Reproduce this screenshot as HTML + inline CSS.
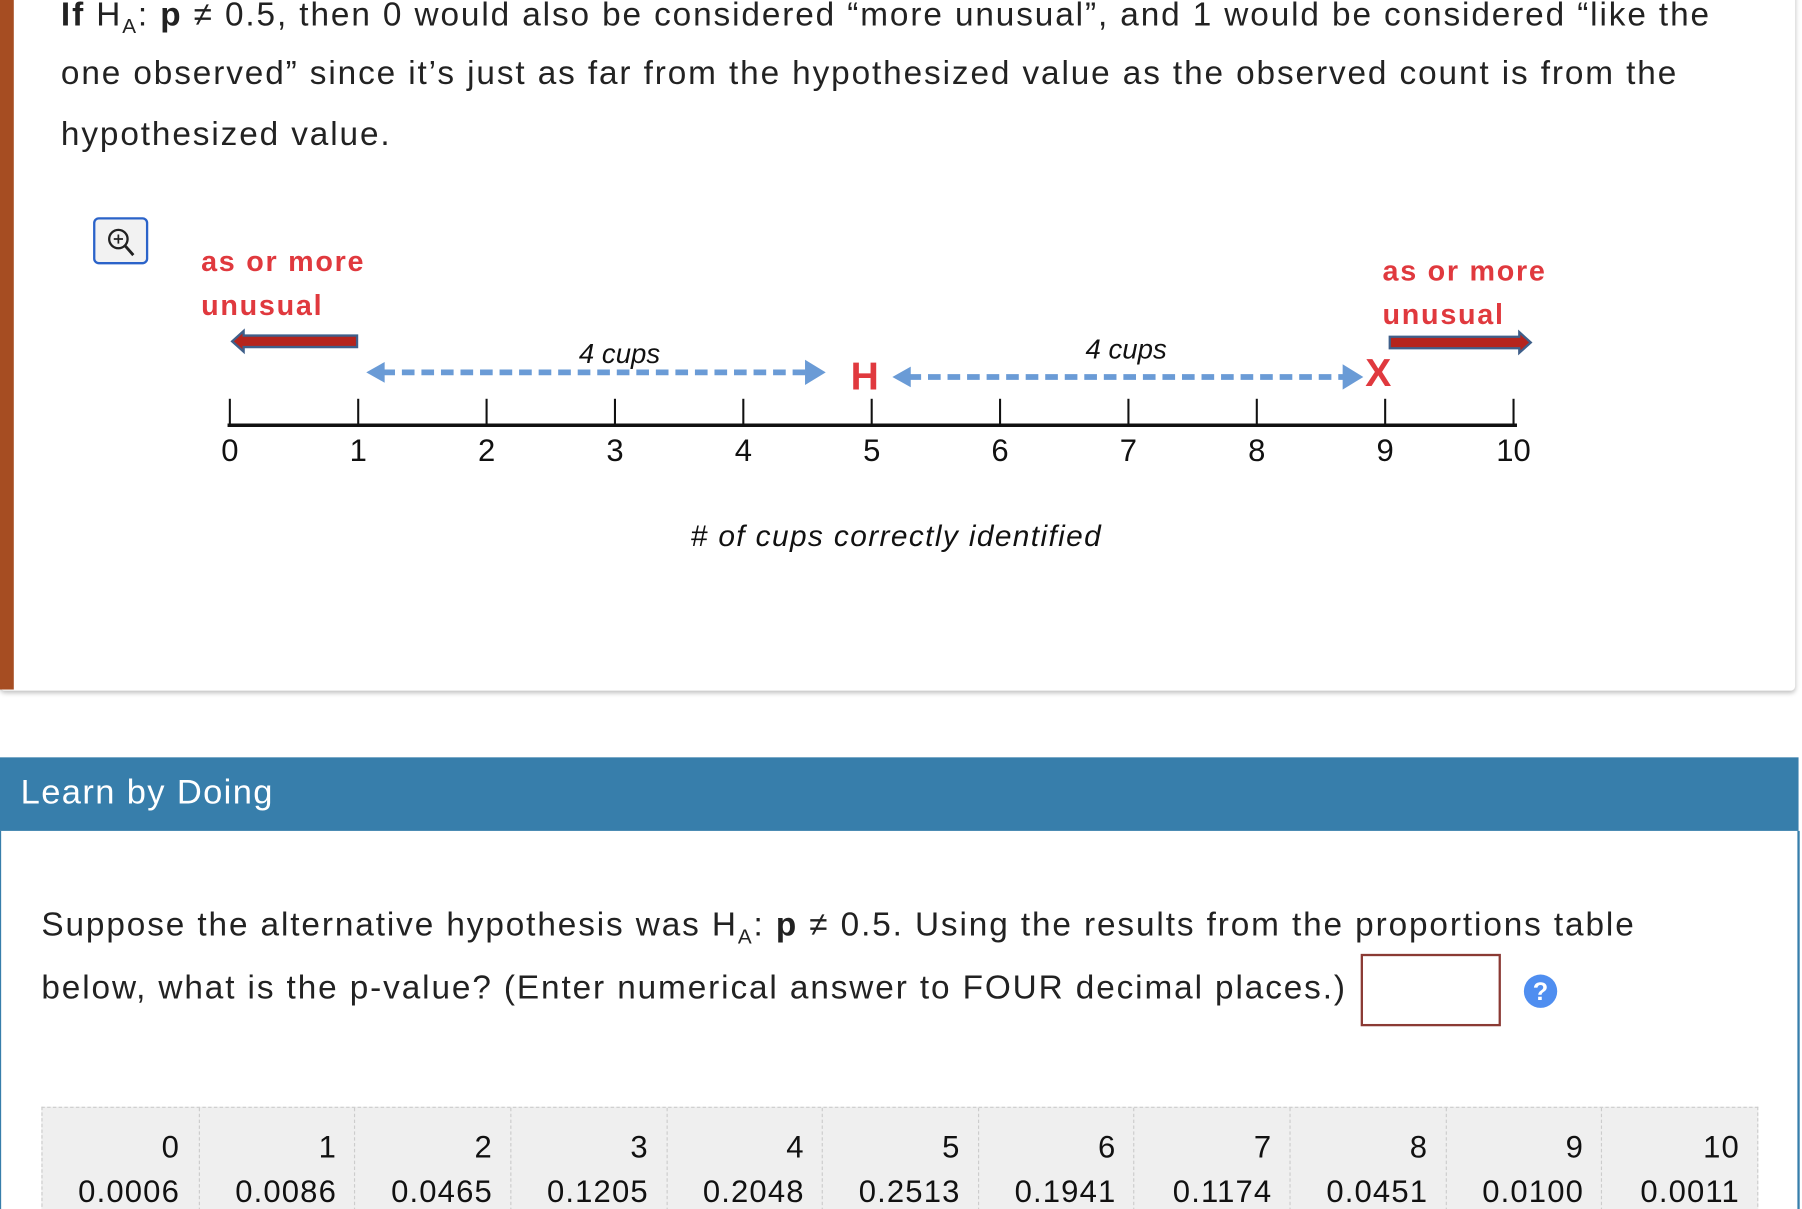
<!DOCTYPE html>
<html><head><meta charset="utf-8">
<style>
html,body{margin:0;padding:0;background:#fff;width:1802px;height:1209px;overflow:hidden}
#wrap{position:absolute;left:0;top:0;width:1568px;height:1052px;overflow:hidden;transform:scale(1.14923);transform-origin:0 0;font-family:"Liberation Sans",sans-serif;color:#222}
.abs{position:absolute}
.p{font-size:29px;white-space:nowrap;letter-spacing:1.65px}
</style></head><body>
<div id="wrap">
  <div class="abs" style="left:0;top:-10px;width:1562px;height:611px;background:#fff;box-shadow:0 2px 4px rgba(0,0,0,0.25);border-radius:0 0 4px 4px"></div>
  <div class="abs" style="left:0;top:0;width:12px;height:600px;background:#a64d22"></div>
  <div class="abs p" style="left:53px;top:-3px"><b>If</b> H<sub style="font-size:18px">A</sub>: <b>p</b> ≠ 0.5, then 0 would also be considered “more unusual”, and 1 would be considered “like the</div>
  <div class="abs p" style="left:53px;top:48px">one observed” since it’s just as far from the hypothesized value as the observed count is from the</div>
  <div class="abs p" style="left:53px;top:101px">hypothesized value.</div>
  <div class="abs" style="left:81px;top:189px;width:44px;height:37px;border:2px solid #2b63c9;border-radius:5px;background:#f2f2f2">
    <svg width="44" height="37"><circle cx="20" cy="17" r="8" fill="none" stroke="#222" stroke-width="2"/><line x1="26" y1="23" x2="33" y2="31" stroke="#222" stroke-width="2.5"/><line x1="16" y1="17" x2="24" y2="17" stroke="#222" stroke-width="1.5"/><line x1="20" y1="13" x2="20" y2="21" stroke="#222" stroke-width="1.5"/></svg>
  </div>
  <svg id="chart" class="abs" style="left:0;top:0" width="1568" height="600"></svg>

  <div class="abs" style="left:0;top:659px;width:1565px;height:64px;background:#377eab"></div>
  <div class="abs" style="left:18px;top:673px;font-size:30px;color:#fff;letter-spacing:1.2px">Learn by Doing</div>
  <div class="abs" style="left:0;top:723px;width:1563px;height:340px;border-left:1px solid #377eab;border-right:2px solid #377eab"></div>
  <div class="abs p" style="left:36px;top:789px">Suppose the alternative hypothesis was H<sub style="font-size:18px">A</sub>: <b>p</b> ≠ 0.5. Using the results from the proportions table</div>
  <div class="abs p" style="left:36px;top:844px">below, what is the p-value? (Enter numerical answer to FOUR decimal places.)</div>
  <div class="abs" style="left:1184px;top:830px;width:118px;height:59px;border:2px solid #8b3a34;background:#fff"></div>
  <div class="abs" style="left:1326px;top:848px;width:29px;height:29px;border-radius:50%;background:#4f8ef0;color:#fff;font-weight:bold;font-size:22px;text-align:center;line-height:29px">?</div>
  <div id="tbl" class="abs" style="left:36px;top:963px;width:1492px;height:100px;background:#efefef;border:1px dashed #ccc"></div>
</div>
<script>
const ticks=[0,1,2,3,4,5,6,7,8,9,10];
const counts=["0","1","2","3","4","5","6","7","8","9","10"];
const props=["0.0006","0.0086","0.0465","0.1205","0.2048","0.2513","0.1941","0.1174","0.0451","0.0100","0.0011"];
const hyp=[5];
const obs=[9];
const ns="http://www.w3.org/2000/svg";
const svg=document.getElementById('chart');
const X=v=>200+v*111.7;
function mk(t,a,name){const e=document.createElementNS(ns,t);for(const k in a)e.setAttribute(k,a[k]);


svg.appendChild(e);return e;}
mk('line',{x1:X(0)-2,y1:370,x2:X(10)+3,y2:370,stroke:'#111','stroke-width':3},'axis-line');
ticks.forEach(t=>{
 mk('line',{x1:X(t),y1:347,x2:X(t),y2:370,stroke:'#111','stroke-width':1.8},'tick-'+t);
 const tx=mk('text',{x:X(t),y:401,'text-anchor':'middle','font-size':27,fill:'#111','font-family':'Liberation Sans'},'tick-label-'+t);tx.textContent=t;
});
const red='#e0393e';
const h=mk('text',{x:X(hyp[0])-6,y:339,'text-anchor':'middle','font-size':34,'font-weight':'bold',fill:red,'font-family':'Liberation Sans'},'hypothesized-marker');h.textContent='H';
const xo=mk('text',{x:X(obs[0])-6,y:336,'text-anchor':'middle','font-size':34,'font-weight':'bold',fill:red,'font-family':'Liberation Sans'},'observed-marker');xo.textContent='X';
function dash(x1,x2,y,name){
 mk('line',{x1:x1+14,y1:y,x2:x2-16,y2:y,stroke:'#6a9bd6','stroke-width':5,'stroke-dasharray':'11 6'},name+'-line');
 mk('polygon',{points:`${x1},${y} ${x1+16},${y-9} ${x1+16},${y+9}`,fill:'#6a9bd6'},name+'-left-head');
 mk('polygon',{points:`${x2},${y} ${x2-18},${y-11} ${x2-18},${y+11}`,fill:'#6a9bd6'},name+'-right-head');
}
dash(X(1)+7,X(hyp[0])-40,324,'left-distance-arrow');
dash(X(hyp[0])+18,X(obs[0])-19,328,'right-distance-arrow');
const c1=mk('text',{x:X(3)+4,y:316,'text-anchor':'middle','font-size':24,'font-style':'italic',fill:'#111','font-family':'Liberation Sans'},'left-distance-label');c1.textContent='4 cups';
const c2=mk('text',{x:X(7)-2,y:312,'text-anchor':'middle','font-size':24,'font-style':'italic',fill:'#111','font-family':'Liberation Sans'},'right-distance-label');c2.textContent='4 cups';
function redArrow(x1,x2,y,dir,name){
 const p=dir<0?`${x2},${y-5} ${x1+10},${y-5} ${x1+10},${y-9} ${x1},${y} ${x1+10},${y+9} ${x1+10},${y+5} ${x2},${y+5}`
              :`${x1},${y-5} ${x2-10},${y-5} ${x2-10},${y-9} ${x2},${y} ${x2-10},${y+9} ${x2-10},${y+5} ${x1},${y+5}`;
 mk('polygon',{points:p,fill:'#b5241d',stroke:'#3f5f8a','stroke-width':2},name);
}
redArrow(X(0)+2,X(1)-1,297,-1,'left-unusual-arrow');
redArrow(X(9)+4,X(10)+15,298,1,'right-unusual-arrow');
[[175,236,'as or more','left-unusual-label-1'],[175,274,'unusual','left-unusual-label-2'],[1203,244,'as or more','right-unusual-label-1'],[1203,282,'unusual','right-unusual-label-2']].forEach(a=>{
 const t=mk('text',{x:a[0],y:a[1],'font-size':25,'font-weight':'bold',fill:red,'font-family':'Liberation Sans','letter-spacing':1.5},a[3]);t.textContent=a[2];});
const at=mk('text',{x:780,y:475,'text-anchor':'middle','font-size':26,'font-style':'italic',fill:'#111','font-family':'Liberation Sans','letter-spacing':1.2},'x-axis-title');at.textContent='# of cups correctly identified';

const tbl=document.getElementById('tbl');
const cw=1492/11;
counts.forEach((c,i)=>{
 const d=document.createElement('div');
 
 
 d.style.cssText=`position:absolute;left:${i*cw}px;top:0;width:${cw-16}px;height:85px;padding-right:16px;text-align:right;font-size:27px;letter-spacing:1px;color:#111;line-height:39px;padding-top:15px;box-sizing:content-box;${i?'border-left:1px dashed #ccc;':''}`;
 d.innerHTML=c+'<br>'+props[i];
 tbl.appendChild(d);
});
</script>
</body></html>
